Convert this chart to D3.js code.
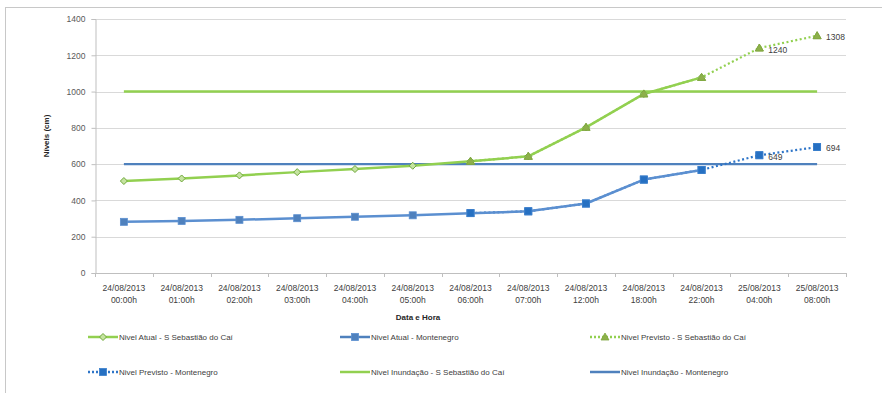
<!DOCTYPE html>
<html>
<head>
<meta charset="utf-8">
<script src="https://cdn.jsdelivr.net/npm/d3@7"></script>
<style>
  html, body { margin: 0; padding: 0; background: #ffffff; }
  svg { display: block; font-family: "Liberation Sans", Arial, sans-serif; }
</style>
</head>
<body>
<svg id="chart" width="882" height="393"></svg>
<script>
// Categories (date / hour)
const categories = [
  ["24/08/2013", "00:00h"], ["24/08/2013", "01:00h"], ["24/08/2013", "02:00h"],
  ["24/08/2013", "03:00h"], ["24/08/2013", "04:00h"], ["24/08/2013", "05:00h"],
  ["24/08/2013", "06:00h"], ["24/08/2013", "07:00h"], ["24/08/2013", "12:00h"],
  ["24/08/2013", "18:00h"], ["24/08/2013", "22:00h"], ["25/08/2013", "04:00h"],
  ["25/08/2013", "08:00h"]
];

// Current level, S. Sebastião do Caí (00:00h – 22:00h)
const atualCai = [507, 521, 538, 556, 573, 591, 616, 643, 803, 987, 1078, null, null];
// Current level, Montenegro
const atualMontenegro = [282, 287, 293, 302, 310, 318, 330, 340, 383, 515, 568, null, null];
// Forecast levels (from 06:00h onward)
const previstoCai = [null, null, null, null, null, null, 616, 643, 803, 987, 1078, 1240, 1308];
const previstoMontenegro = [null, null, null, null, null, null, 330, 340, 383, 515, 568, 649, 694];
// Flood levels
const inundacaoCai = 1000;
const inundacaoMontenegro = 600;

// Which forecast points carry a value label
const labelledPoints = [11, 12];

const yTicks = [0, 200, 400, 600, 800, 1000, 1200, 1400];

const legendItems = [
  { name: "Nivel Atual - S Sebastião  do Caí", color: "#92D050", dash: null, marker: "diamond" },
  { name: "Nivel Atual - Montenegro", color: "#4F81BD", dash: null, marker: "square" },
  { name: "Nivel Previsto - S Sebastião do Caí", color: "#92D050", dash: "2,2", marker: "triangle" },
  { name: "Nivel Previsto - Montenegro", color: "#2E75C8", dash: "2,2", marker: "squareDark" },
  { name: "Nivel Inundação - S Sebastião do Caí", color: "#92D050", dash: null, marker: null },
  { name: "Nivel Inundação - Montenegro", color: "#4F81BD", dash: null, marker: null }
];

const svg = d3.select("#chart");

// Outer frame (top and left edges)
svg.append("line").attr("x1", 5).attr("x2", 882).attr("y1", 7.5).attr("y2", 7.5)
  .attr("stroke", "#c8c8c8").attr("stroke-width", 1);
svg.append("line").attr("x1", 5.5).attr("x2", 5.5).attr("y1", 7).attr("y2", 393)
  .attr("stroke", "#c8c8c8").attr("stroke-width", 1);

const plot = { left: 95, right: 846, top: 19, bottom: 273 };

const x = d3.scaleBand()
  .domain(d3.range(categories.length))
  .range([plot.left, plot.right])
  .padding(0);
const cx = i => x(i) + x.bandwidth() / 2;

const y = d3.scaleLinear().domain([0, 1400]).range([plot.bottom, plot.top]);

// Horizontal gridlines
svg.append("g").selectAll("line").data(yTicks.filter(t => t > 0)).join("line")
  .attr("x1", plot.left).attr("x2", plot.right)
  .attr("y1", d => Math.round(y(d)) + 0.5).attr("y2", d => Math.round(y(d)) + 0.5)
  .attr("stroke", "#d9d9d9").attr("stroke-width", 1);

// Y axis
const yAxis = svg.append("g")
  .attr("transform", `translate(${plot.left + 0.5},0)`)
  .call(d3.axisLeft(y).tickValues(yTicks).tickFormat(d3.format("d")).tickSize(4).tickPadding(6));
yAxis.select(".domain").attr("stroke", "#bfbfbf");
yAxis.selectAll(".tick line").attr("stroke", "#bfbfbf");
yAxis.selectAll(".tick text").attr("fill", "#595959").attr("font-size", 8.5)
  .attr("font-family", "Liberation Sans, Arial, sans-serif");

// X axis baseline and category ticks
svg.append("line").attr("x1", plot.left).attr("x2", plot.right)
  .attr("y1", plot.bottom + 0.5).attr("y2", plot.bottom + 0.5)
  .attr("stroke", "#bfbfbf");
svg.append("g").selectAll("line").data(d3.range(categories.length + 1)).join("line")
  .attr("x1", d => Math.round(plot.left + d * x.bandwidth()) + 0.5)
  .attr("x2", d => Math.round(plot.left + d * x.bandwidth()) + 0.5)
  .attr("y1", plot.bottom).attr("y2", plot.bottom + 4)
  .attr("stroke", "#bfbfbf");

const xLabels = svg.append("g").selectAll("text").data(categories).join("text")
  .attr("x", (d, i) => cx(i))
  .attr("y", 291)
  .attr("text-anchor", "middle")
  .attr("font-size", 8.5)
  .attr("fill", "#404040");
xLabels.append("tspan").attr("x", (d, i) => cx(i)).text(d => d[0]);
xLabels.append("tspan").attr("x", (d, i) => cx(i)).attr("dy", 12).text(d => d[1]);

// Axis titles
svg.append("text").attr("x", 418).attr("y", 320).attr("text-anchor", "middle")
  .attr("font-size", 8).attr("font-weight", "bold").attr("fill", "#262626")
  .text("Data e Hora");
svg.append("text")
  .attr("transform", "translate(49,136) rotate(-90)")
  .attr("text-anchor", "middle")
  .attr("font-size", 8).attr("font-weight", "bold").attr("fill", "#262626")
  .text("Níveis  (cm)");

// Flood level lines
const firstX = cx(0), lastX = cx(categories.length - 1);
svg.append("line").attr("x1", firstX).attr("x2", lastX)
  .attr("y1", y(inundacaoCai)).attr("y2", y(inundacaoCai))
  .attr("stroke", "#92D050").attr("stroke-width", 2.5);
svg.append("line").attr("x1", firstX).attr("x2", lastX)
  .attr("y1", y(inundacaoMontenegro)).attr("y2", y(inundacaoMontenegro))
  .attr("stroke", "#4F81BD").attr("stroke-width", 2.2);

const line = d3.line()
  .defined(d => d != null)
  .x((d, i) => cx(i))
  .y(d => y(d));

// Marker shapes
function drawMarker(g, type, px, py) {
  if (type === "diamond") {
    g.append("path")
      .attr("d", `M${px},${py - 3.5}L${px + 3.5},${py}L${px},${py + 3.5}L${px - 3.5},${py}Z`)
      .attr("fill", "#c5e3a0").attr("stroke", "#6fa83a").attr("stroke-width", 1);
  } else if (type === "square") {
    g.append("rect").attr("x", px - 3.5).attr("y", py - 3.5).attr("width", 7).attr("height", 7)
      .attr("fill", "#4F81BD").attr("stroke", "#5b8fd0").attr("stroke-width", 0.8);
  } else if (type === "squareDark") {
    g.append("rect").attr("x", px - 3.5).attr("y", py - 3.5).attr("width", 7).attr("height", 7)
      .attr("fill", "#2670C2").attr("stroke", "#3a7fcc").attr("stroke-width", 0.8);
  } else if (type === "triangle") {
    g.append("path")
      .attr("d", `M${px},${py - 4}L${px + 4},${py + 3}L${px - 4},${py + 3}Z`)
      .attr("fill", "#8DB04A").attr("stroke", "#7fa63f").attr("stroke-width", 0.8);
  }
}

function drawSeries(values, color, width, dash, marker) {
  const g = svg.append("g");
  g.append("path").datum(values)
    .attr("d", line)
    .attr("fill", "none")
    .attr("stroke", color)
    .attr("stroke-width", width)
    .attr("stroke-dasharray", dash)
    .attr("stroke-linejoin", "round");
  values.forEach((v, i) => {
    if (v != null) drawMarker(g, marker, cx(i), y(v));
  });
}

drawSeries(previstoMontenegro, "#2E75C8", 2.2, "2,2.5", "squareDark");
drawSeries(atualMontenegro, "#5B8FD0", 2.5, null, "square");
drawSeries(previstoCai, "#92D050", 2.2, "2,2.5", "triangle");
drawSeries(atualCai, "#92D050", 2.5, null, "diamond");
// forecast markers sit on top of the current-level line
const fg = svg.append("g");
previstoCai.forEach((v, i) => { if (v != null) drawMarker(fg, "triangle", cx(i), y(v)); });
previstoMontenegro.forEach((v, i) => { if (v != null) drawMarker(fg, "squareDark", cx(i), y(v)); });

// Value labels on the forecast points
const labels = svg.append("g").attr("font-size", 8.5).attr("fill", "#404040");
labelledPoints.forEach(i => {
  labels.append("text").attr("x", cx(i) + 9).attr("y", y(previstoCai[i]) + (i === 11 ? 5 : 4))
    .text(previstoCai[i]);
  labels.append("text").attr("x", cx(i) + 9).attr("y", y(previstoMontenegro[i]) + (i === 11 ? 5 : 4))
    .text(previstoMontenegro[i]);
});

// Legend: three columns, two rows
const legendCols = [88, 340, 590];
const legendRows = [337, 372];
const legend = svg.append("g");
legendItems.forEach((item, k) => {
  const lx = legendCols[k % 3], ly = legendRows[Math.floor(k / 3)];
  const g = legend.append("g");
  g.append("line").attr("x1", lx).attr("x2", lx + 30).attr("y1", ly).attr("y2", ly)
    .attr("stroke", item.color).attr("stroke-width", 2.5)
    .attr("stroke-dasharray", item.dash);
  if (item.marker) drawMarker(g, item.marker, lx + 15, ly);
  g.append("text").attr("x", lx + 31).attr("y", ly + 3)
    .attr("font-size", 8).attr("fill", "#404040")
    .text(item.name);
});
</script>
</body>
</html>
